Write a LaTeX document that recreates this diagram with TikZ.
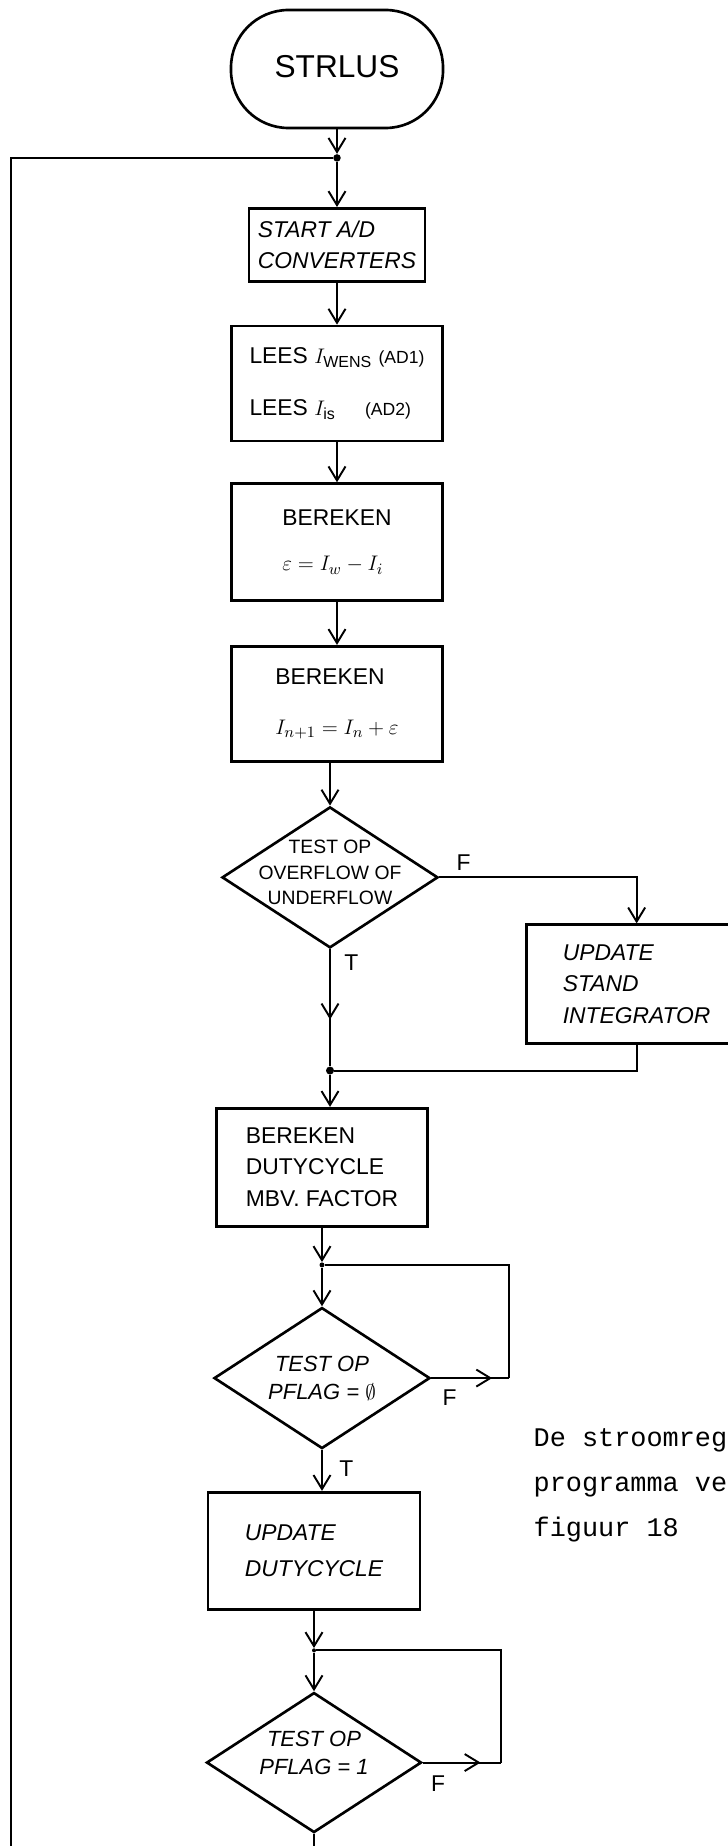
\documentclass[tikz,border=0pt]{standalone}
\usepackage{amsmath,amssymb}
\usepackage{fontspec}
\setsansfont{Liberation Sans}
\setmonofont{Liberation Mono}
\usepackage{tikz}
\usetikzlibrary{arrows.meta,positioning,shapes.geometric,decorations.markings}

\begin{document}
\begin{tikzpicture}[
  termbox/.style={draw, line width=1.5pt, rounded corners=1.15cm, minimum width=4.24cm, minimum height=2.36cm, font=\fontsize{18}{22}\selectfont\sffamily},
  proc/.style={draw, line width=1.5pt, minimum width=4.22cm, minimum height=2.34cm, align=left, font=\fontsize{13}{18}\selectfont\sffamily},
  slant/.style={font=\fontsize{13}{18}\selectfont\sffamily\itshape},
  dia/.style={draw, diamond, line width=1.5pt, inner sep=0pt, minimum width=4.32cm, minimum height=2.82cm},
  diatxt/.style={align=center, inner sep=0pt, font=\fontsize{12.5}{16}\selectfont\sffamily\itshape},
  junc/.style={circle, fill, inner sep=0pt, minimum size=#1},
  flow/.style={line width=1.1pt},
  arr/.style={flow, -{Straight Barb[length=0.28cm, width=0.34cm]}},
  midarr/.style={flow, postaction={decorate}, decoration={markings, mark=at position #1 with {\arrow{Straight Barb[length=0.28cm, width=0.34cm]}}}},
  loopline/.style={line width=1.6pt},
  lbl/.style={inner sep=0pt, font=\fontsize{13}{16}\selectfont\sffamily},
  remark/.style={align=left, inner sep=0pt, font=\fontsize{15.3}{25.6}\selectfont\ttfamily},
]
\useasboundingbox (0,0) rectangle (14.54,-36.92);

% main column
\node[termbox] (strlus) at (6.74,-1.38) {\raisebox{0.1cm}{STRLUS}};
\node[junc=0.15cm, below=0.49cm of strlus] (j1) {};
\node[proc, slant, minimum width=3.52cm, minimum height=1.46cm, below=0.9cm of j1] (start) {START A/D\\CONVERTERS};
\node[proc, minimum height=2.30cm, below=0.84cm of start] (lees)
  {LEES $I_{\text{WENS}}$ {\fontsize{10}{12}\selectfont(AD1)}\\[11.6pt]LEES $I_{\text{is}}$\quad\ {\fontsize{10}{12}\selectfont(AD2)}};
\node[proc, below=0.8cm of lees] (ber1) {BEREKEN\\[7.6pt]$\varepsilon = I_w - I_i$};
\node[proc, minimum height=2.30cm, below=0.86cm of ber1] (ber2) {BEREKEN\\[10.5pt]$I_{n+1} = I_n + \varepsilon$};
\node[dia, below=0.86cm of ber2, xshift=-0.14cm] (ovf) {};
\node[diatxt, font=\fontsize{11}{14.5}\selectfont\sffamily, yshift=0.1cm] (ovftxt) at (ovf) {TEST OP\\OVERFLOW OF\\UNDERFLOW};
\node[junc=0.16cm, below=2.34cm of ovf] (j2) {};
\node[proc, minimum height=2.36cm, below=0.64cm of j2, xshift=-0.16cm] (berdc) {BEREKEN\\DUTYCYCLE\\MBV. FACTOR};
\node[junc=0.1cm, below=0.69cm of berdc] (j3) {};
\node[dia, below=0.77cm of j3] (pf0) {};
\node[diatxt] (pf0txt) at (pf0) {TEST OP\\PFLAG = $\emptyset$};
\node[proc, slant, minimum width=4.24cm, below=0.82cm of pf0, xshift=-0.16cm] (upd) {UPDATE\\[3pt]DUTYCYCLE};
\node[junc=0.08cm, below=0.75cm of upd] (j4) {};
\node[dia, minimum width=4.3cm, minimum height=2.8cm, below=0.77cm of j4] (pf1) {};
\node[diatxt, yshift=0.2cm] (pf1txt) at (pf1) {TEST OP\\PFLAG = 1};
\coordinate[below=0.74cm of pf1] (out);

% side branch
\node[proc, slant, minimum width=4.4cm, minimum height=2.38cm, below right=0.92cm and 1.72cm of ovf.east] (integ) {UPDATE\\STAND\\INTEGRATOR\hspace{0.3cm}};

% connectors
\draw[arr] (strlus) -- (j1);
\draw[arr] (j1) -- (start);
\draw[arr] (start) -- (lees);
\draw[arr] (lees) -- (ber1);
\draw[arr] (ber1) -- (ber2);
\draw[arr] (ovf.north |- ber2.south) -- (ovf.north);
\draw[midarr=0.6] (ovf.south) -- (j2);
\draw[arr] (ovf.east) -| (integ.north);
\draw[flow] (integ.south) |- (j2);
\draw[arr] (j2) -- (j2 |- berdc.north);
\draw[arr] (berdc) -- (j3);
\draw[arr] (j3) -- (pf0);
\draw[arr] (pf0.south) -- (pf0.south |- upd.north);
\draw[arr] (upd) -- (j4);
\draw[arr] (j4) -- (pf1);
\draw[arr] (pf1) -- (out);

% wait loops
\coordinate[right=1.56cm of pf0.east] (f0c);
\draw[midarr=0.78] (pf0.east) -- (f0c);
\draw[flow] (f0c) |- (j3);
\coordinate[right=1.56cm of pf1.east] (f1c);
\draw[midarr=0.74] (pf1.east) -- (f1c);
\draw[flow] (f1c) |- (j4);

% return line
\coordinate (loopend) at (0.22,-36.95);
\draw[loopline] (j1) -| (loopend);

% branch labels
\node[lbl, above right=0.14cm and 0.34cm of ovf.east] (ovfF) {F};
\node[lbl, below right=0.1cm and 0.28cm of ovf.south] (ovfT) {T};
\node[lbl, below right=0.22cm and 0.22cm of pf0.east] (pf0F) {F};
\node[lbl, below right=0.22cm and 0.34cm of pf0.south] (pf0T) {T};
\node[lbl, below right=0.26cm and 0.16cm of pf1.east] (pf1F) {F};

\node[remark, below right=1.0cm and 2.04cm of pf0.east] (remark) {De stroomreg\\programma ve\\figuur 18};
\end{tikzpicture}
\end{document}
